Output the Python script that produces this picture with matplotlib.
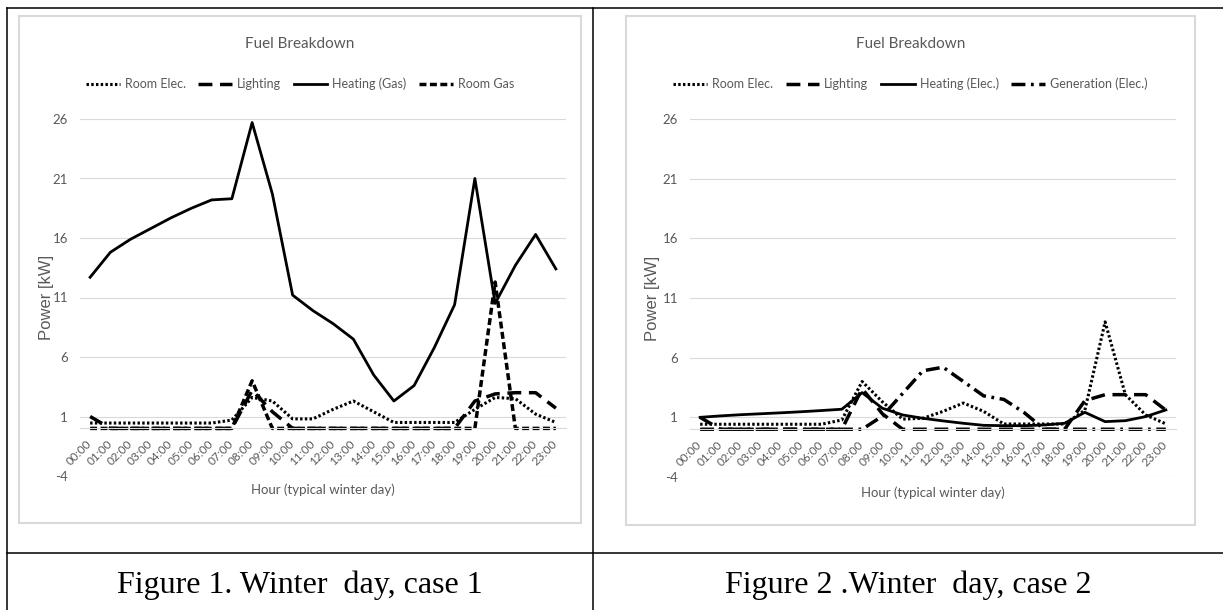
import matplotlib.pyplot as plt
from matplotlib.lines import Line2D
from matplotlib.patches import Rectangle

# hourly profile of a typical winter day
hours = ["%02d:00" % h for h in range(24)]
power_ticks = [-4, 1, 6, 11, 16, 21, 26]

# case 1 - gas heating [kW]
c1_room_elec = [0.45, 0.45, 0.45, 0.45, 0.45, 0.45, 0.45, 0.7, 2.6, 2.3, 0.8, 0.8,
                1.6, 2.3, 1.4, 0.5, 0.5, 0.5, 0.5, 1.6, 2.6, 2.5, 1.2, 0.5]
c1_lighting = [1.0, 0, 0, 0, 0, 0, 0, 0, 3.2, 1.4, 0, 0,
               0, 0, 0, 0, 0, 0, 0, 2.3, 2.9, 3.0, 3.0, 1.7]
c1_heating = [12.7, 14.8, 15.9, 16.8, 17.7, 18.5, 19.2, 19.3, 25.7, 19.7, 11.2, 9.9,
              8.8, 7.5, 4.5, 2.3, 3.6, 6.8, 10.4, 21.0, 10.5, 13.7, 16.3, 13.4]
c1_room_gas = [0, 0, 0, 0, 0, 0, 0, 0, 4.0, 0, 0, 0,
               0, 0, 0, 0, 0, 0, 0, 0, 12.3, 0, 0, 0]

# case 2 - electric heating with on-site generation [kW]
c2_room_elec = [0.42, 0.42, 0.42, 0.42, 0.42, 0.42, 0.42, 0.78, 4.0, 2.3, 0.85, 0.92,
                1.5, 2.2, 1.5, 0.44, 0.44, 0.44, 0.44, 1.6, 9.0, 2.9, 1.2, 0.45]
c2_lighting = [1.0, 0, 0, 0, 0, 0, 0, 0, 3.4, 1.3, 0, 0,
               0, 0, 0, 0, 0, 0, 0, 2.4, 2.9, 2.9, 2.9, 1.6]
c2_heating = [1.0, 1.12, 1.22, 1.3, 1.38, 1.47, 1.57, 1.68, 3.07, 1.76, 1.2, 0.92,
              0.7, 0.5, 0.33, 0.3, 0.3, 0.36, 0.5, 1.42, 0.64, 0.72, 1.06, 1.62]
c2_generation = [0, 0, 0, 0, 0, 0, 0, 0, 0, 1.1, 3.0, 4.9,
                 5.2, 4.0, 2.8, 2.5, 1.4, 0, 0, 0, 0, 0, 0, 0]

W, H = 1223, 610
TXT = "#595959"
GRID = "#d9d9d9"
plt.rcParams["font.family"] = ["Lato", "DejaVu Sans"]
plt.rcParams["axes.unicode_minus"] = False

# line styles (dash lengths are in units of line width)
dotted = dict(ls=(0, (0.8, 0.75)), lw=2.2)
long_dash = dict(ls=(0, (4, 2.2)), lw=2.5)
solid = dict(ls="-", lw=2.0)
short_dash = dict(ls=(0, (2, 1)), lw=2.5)
dash_dot = dict(ls=(0, (4, 1.6, 0.8, 1.6)), lw=2.5)

fig = plt.figure(figsize=(W / 100, H / 100), dpi=100)


def fx(x):
    return x / W


def fy(y):
    return 1 - y / H


def table_line(xs, ys):
    fig.add_artist(Line2D([fx(x) for x in xs], [fy(y) for y in ys], color="black", lw=1.1))


# table borders around the two figures
table_line([7, W], [8, 8])
table_line([7, W], [553, 553])
table_line([7, 7], [8, H])
table_line([593, 593], [8, H])


def draw_chart(box, area, series, ylabel_x, xlabel_y):
    bx0, by0, bx1, by1 = box
    fig.add_artist(Rectangle((fx(bx0), fy(by1)), fx(bx1) - fx(bx0), fy(by0) - fy(by1),
                             transform=fig.transFigure, fill=False, ec=GRID, lw=1.5))
    x0, y0, x1, y1 = area
    ax = fig.add_axes([fx(x0), fy(y1), (x1 - x0) / W, (y1 - y0) / H])
    for label, values, style in series:
        ax.plot(range(24), values, color="black", label=label, **style)

    # category axis crosses at zero, labels hang below it
    for side in ["top", "right", "left"]:
        ax.spines[side].set_visible(False)
    ax.spines["bottom"].set_position(("data", 0))
    ax.spines["bottom"].set_color(GRID)
    ax.spines["bottom"].set_linewidth(0.8)

    ax.set_xlim(-0.5, 23.5)
    ax.set_ylim(-4, 26)
    ax.set_yticks(power_ticks)
    ax.set_xticks(range(24))
    ax.set_xticklabels(hours)
    ax.grid(axis="y", color=GRID, lw=0.8)
    ax.set_axisbelow(True)
    ax.tick_params(axis="y", length=0, pad=8.6, labelsize=9.5, labelcolor=TXT)
    ax.tick_params(axis="x", length=0, pad=10, labelsize=8.5, labelcolor=TXT)
    for lbl in ax.get_xticklabels():
        lbl.set_rotation(45)
        lbl.set_ha("right")
        lbl.set_va("center")
        lbl.set_rotation_mode("anchor")

    cx = (bx0 + bx1) / 2
    fig.text(fx(cx), fy(44), "Fuel Breakdown", ha="center", va="center", fontsize=11, color=TXT)
    ax.legend(loc="center", bbox_to_anchor=(fx(cx), fy(84)), bbox_transform=fig.transFigure,
              ncol=4, frameon=False, fontsize=9, handlelength=2.7, handletextpad=0.4,
              columnspacing=1.0, labelcolor=TXT)
    fig.text(fx((x0 + x1) / 2), fy(xlabel_y), "Hour (typical winter day)", ha="center",
             va="center", fontsize=9.5, color=TXT)
    fig.text(fx(ylabel_x), fy((y0 + y1) / 2), "Power [kW]", rotation=90, ha="center",
             va="center", fontsize=12, color=TXT, family="Liberation Sans")
    return ax


draw_chart((19, 16, 581, 523), (80, 119, 566, 476),
           [("Room Elec.", c1_room_elec, dotted),
            ("Lighting", c1_lighting, long_dash),
            ("Heating (Gas)", c1_heating, solid),
            ("Room Gas", c1_room_gas, short_dash)],
           ylabel_x=46, xlabel_y=490)

draw_chart((626, 16, 1195, 525), (690, 119, 1176, 477),
           [("Room Elec.", c2_room_elec, dotted),
            ("Lighting", c2_lighting, long_dash),
            ("Heating (Elec.)", c2_heating, solid),
            ("Generation (Elec.)", c2_generation, dash_dot)],
           ylabel_x=653, xlabel_y=493)

# captions below the charts
fig.text(fx(300), fy(585), "Figure 1. Winter  day, case 1", ha="center", va="center",
         fontsize=23, family="Liberation Serif")
fig.text(fx(908), fy(585), "Figure 2 .Winter  day, case 2", ha="center", va="center",
         fontsize=23, family="Liberation Serif")

fig.savefig("out.png", dpi=100)
